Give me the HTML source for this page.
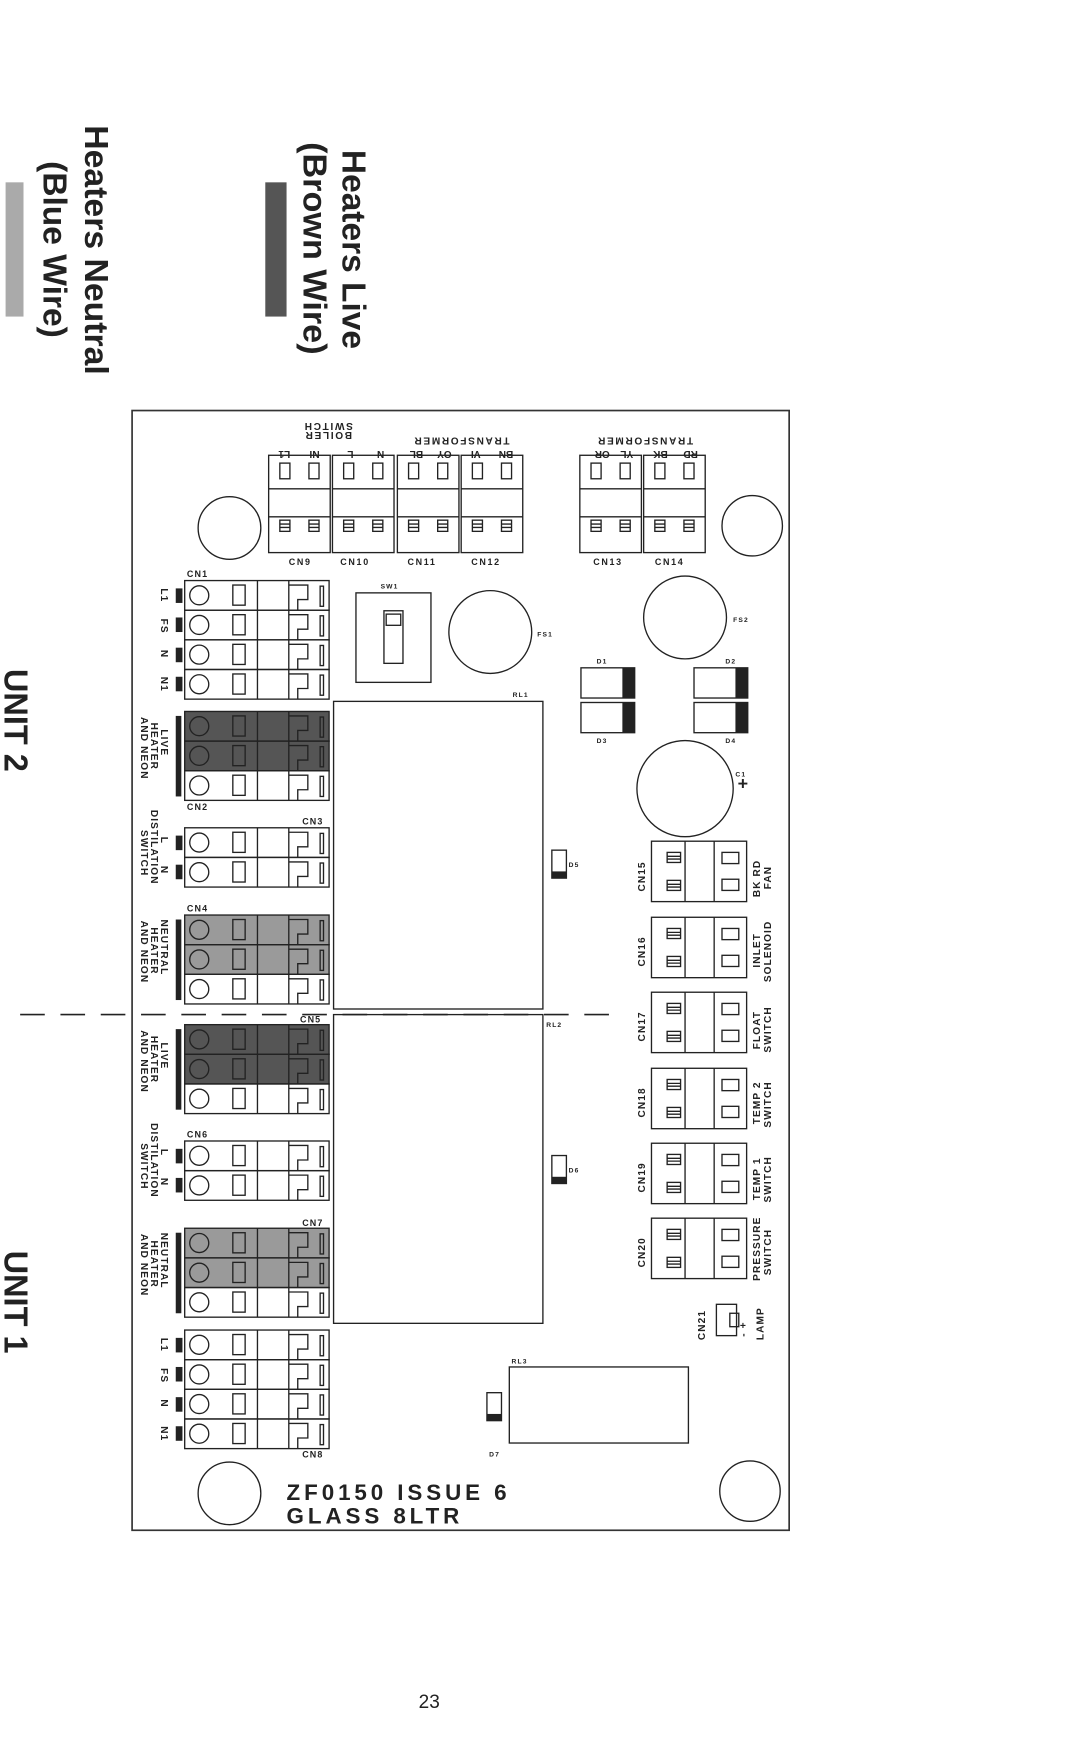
<!DOCTYPE html>
<html><head><meta charset="utf-8"><style>
html,body{margin:0;padding:0;background:#fff}
svg{display:block}
text{font-family:"Liberation Sans",sans-serif;fill:#222}
.s{font-size:8px;font-weight:bold}
.t{font-size:9px;font-weight:bold;text-anchor:middle}
</style></head><body>
<svg width="1069" height="1754" viewBox="0 0 955 1568" preserveAspectRatio="none" xmlns="http://www.w3.org/2000/svg">
<defs>
<g id="row" fill="none" stroke="#222" stroke-width="1.2">
<rect x="0" y="0" width="129" height="26.5"/>
<circle cx="13" cy="13.2" r="8.5"/>
<rect x="43" y="4" width="11" height="18"/>
<line x1="65" y1="0" x2="65" y2="26.5"/>
<line x1="93" y1="0" x2="93" y2="26.5"/>
<path d="M93,4 H110 V17 H101 V26.5"/>
<rect x="121" y="5" width="3" height="18"/>
</g>
<g id="tc" fill="none" stroke="#222" stroke-width="1.2">
<rect x="0" y="0" width="55" height="87"/>
<line x1="0" y1="30" x2="55" y2="30"/><line x1="0" y1="55" x2="55" y2="55"/>
<rect x="10" y="7" width="9" height="14"/><rect x="36" y="7" width="9" height="14"/>
<rect x="10" y="58" width="9" height="10"/><rect x="36" y="58" width="9" height="10"/>
<path d="M10,61.5h9M10,64.5h9M36,61.5h9M36,64.5h9"/>
</g>
<g id="rc" fill="none" stroke="#222" stroke-width="1.2">
<rect x="0" y="0" width="85" height="54"/>
<line x1="30" y1="0" x2="30" y2="54"/><line x1="56" y1="0" x2="56" y2="54"/>
<rect x="14" y="10" width="12" height="9"/><rect x="14" y="35" width="12" height="9"/>
<path d="M14,13.5h12M14,16h12M14,38.5h12M14,41h12"/>
<rect x="63" y="10" width="15" height="10"/><rect x="63" y="34" width="15" height="10"/>
</g>
</defs>

<rect x="237" y="163" width="19" height="120" fill="#555"/>
<rect x="5" y="163" width="16" height="120" fill="#aaa"/>
<g style="font-size:30px;font-weight:bold">
<text transform="translate(306,134) rotate(90)" textLength="178" lengthAdjust="spacingAndGlyphs">Heaters Live</text>
<text transform="translate(271,127) rotate(90)" textLength="190" lengthAdjust="spacingAndGlyphs">(Brown Wire)</text>
<text transform="translate(76,112) rotate(90)" textLength="223" lengthAdjust="spacingAndGlyphs">Heaters Neutral</text>
<text transform="translate(39,144) rotate(90)" textLength="158" lengthAdjust="spacingAndGlyphs">(Blue Wire)</text>
<text transform="translate(4,598) rotate(90)" textLength="92" lengthAdjust="spacingAndGlyphs">UNIT 2</text>
<text transform="translate(4,1118) rotate(90)" textLength="92" lengthAdjust="spacingAndGlyphs">UNIT 1</text>
</g>
<text x="374" y="1527" style="font-size:17px">23</text>

<rect x="118" y="367" width="587" height="1001" fill="none" stroke="#333" stroke-width="1.5"/>
<line x1="18" y1="907" x2="545" y2="907" stroke="#222" stroke-width="1.5" stroke-dasharray="22,14"/>

<g fill="none" stroke="#222" stroke-width="1.2">
<circle cx="205" cy="472" r="28"/><circle cx="672" cy="470" r="27"/>
<circle cx="205" cy="1335" r="28"/><circle cx="670" cy="1333" r="27"/>
<circle cx="438" cy="565" r="37"/><circle cx="612" cy="552" r="37"/>
<circle cx="612" cy="705" r="43"/>
<rect x="318" y="530" width="67" height="80"/><rect x="343" y="546" width="17" height="47"/><rect x="345" y="549" width="13" height="10"/>
<rect x="298" y="627" width="187" height="275"/>
<rect x="298" y="907" width="187" height="276"/>
<rect x="455" y="1222" width="160" height="68"/>
<rect x="519" y="597" width="48" height="27"/><rect x="519" y="628" width="48" height="27"/>
<rect x="620" y="597" width="48" height="27"/><rect x="620" y="628" width="48" height="27"/>
<rect x="493" y="760" width="13" height="25"/><rect x="493" y="1033" width="13" height="25"/><rect x="435" y="1245" width="13" height="25"/>
<rect x="640" y="1166" width="18" height="28"/><rect x="652" y="1174" width="8" height="12"/>
</g>
<g fill="#222">
<rect x="556" y="597" width="11" height="27"/><rect x="556" y="628" width="11" height="27"/>
<rect x="657" y="597" width="11" height="27"/><rect x="657" y="628" width="11" height="27"/>
<rect x="493" y="779" width="13" height="6"/><rect x="493" y="1052" width="13" height="6"/><rect x="435" y="1264" width="13" height="6"/>
</g>
<text x="659" y="706" style="font-size:16px;font-weight:bold">+</text>

<use href="#tc" x="240" y="407"/><use href="#tc" x="297" y="407"/><use href="#tc" x="355" y="407"/><use href="#tc" x="412" y="407"/>
<use href="#tc" x="518" y="407"/><use href="#tc" x="575" y="407"/>
<g class="s" style="letter-spacing:1.5px">
<text x="258" y="505">CN9</text><text x="304" y="505">CN10</text><text x="364" y="505">CN11</text><text x="421" y="505">CN12</text>
<text x="530" y="505">CN13</text><text x="585" y="505">CN14</text>
</g>
<g class="s" style="font-size:6px;letter-spacing:1px">
<text x="340" y="526">SW1</text>
<text x="480" y="569">FS1</text><text x="655" y="556">FS2</text>
<text x="533" y="593">D1</text><text x="648" y="593">D2</text>
<text x="533" y="664">D3</text><text x="648" y="664">D4</text>
<text x="657" y="694">C1</text>
<text x="458" y="623">RL1</text><text x="488" y="918">RL2</text><text x="457" y="1219">RL3</text>
<text x="508" y="775">D5</text><text x="508" y="1048">D6</text><text x="437" y="1302">D7</text>
</g>
<g class="t">
<text transform="translate(254,403) rotate(180)">L1</text>
<text transform="translate(281,403) rotate(180)">NI</text>
<text transform="translate(313,403) rotate(180)">L</text>
<text transform="translate(340,403) rotate(180)">N</text>
<text transform="translate(372,403) rotate(180)">BL</text>
<text transform="translate(397,403) rotate(180)">OY</text>
<text transform="translate(425,403) rotate(180)">VI</text>
<text transform="translate(452,403) rotate(180)">BN</text>
<text transform="translate(538,403) rotate(180)">OR</text>
<text transform="translate(560,403) rotate(180)">YL</text>
<text transform="translate(590,403) rotate(180)">BK</text>
<text transform="translate(617,403) rotate(180)">RD</text>
<text transform="translate(412,391) rotate(180)" style="letter-spacing:1.5px">TRANSFORMER</text>
<text transform="translate(576,391) rotate(180)" style="letter-spacing:1.5px">TRANSFORMER</text>
<text transform="translate(293,386) rotate(180)" style="letter-spacing:1.5px">BOILER</text>
<text transform="translate(293,378) rotate(180)" style="letter-spacing:1.5px">SWITCH</text>
</g>

<g fill="#555">
<rect x="165" y="636" width="129" height="53"/><rect x="165" y="916" width="129" height="53"/>
</g>
<g fill="#9a9a9a">
<rect x="165" y="818" width="129" height="53"/><rect x="165" y="1098" width="129" height="53"/>
</g>
<use href="#row" x="165" y="519"/><use href="#row" x="165" y="545.5"/><use href="#row" x="165" y="572"/><use href="#row" x="165" y="598.5"/>
<use href="#row" x="165" y="636"/><use href="#row" x="165" y="662.5"/><use href="#row" x="165" y="689"/>
<use href="#row" x="165" y="740"/><use href="#row" x="165" y="766.5"/>
<use href="#row" x="165" y="818"/><use href="#row" x="165" y="844.5"/><use href="#row" x="165" y="871"/>
<use href="#row" x="165" y="916"/><use href="#row" x="165" y="942.5"/><use href="#row" x="165" y="969"/>
<use href="#row" x="165" y="1020"/><use href="#row" x="165" y="1046.5"/>
<use href="#row" x="165" y="1098"/><use href="#row" x="165" y="1124.5"/><use href="#row" x="165" y="1151"/>
<use href="#row" x="165" y="1189"/><use href="#row" x="165" y="1215.5"/><use href="#row" x="165" y="1242"/><use href="#row" x="165" y="1268.5"/>
<g fill="#222">
<rect x="157" y="526" width="6" height="13"/><rect x="157" y="552" width="6" height="13"/><rect x="157" y="579" width="6" height="13"/><rect x="157" y="605" width="6" height="13"/>
<rect x="157" y="640" width="5" height="72"/>
<rect x="157" y="747" width="6" height="13"/><rect x="157" y="773" width="6" height="13"/>
<rect x="157" y="822" width="5" height="72"/>
<rect x="157" y="920" width="5" height="72"/>
<rect x="157" y="1027" width="6" height="13"/><rect x="157" y="1053" width="6" height="13"/>
<rect x="157" y="1102" width="5" height="72"/>
<rect x="157" y="1196" width="6" height="13"/><rect x="157" y="1222" width="6" height="13"/><rect x="157" y="1249" width="6" height="13"/><rect x="157" y="1275" width="6" height="13"/>
</g>
<g class="s" style="letter-spacing:1px">
<text x="167" y="516">CN1</text><text x="167" y="724">CN2</text><text x="270" y="737">CN3</text><text x="167" y="815">CN4</text>
<text x="268" y="914">CN5</text><text x="167" y="1017">CN6</text><text x="270" y="1096">CN7</text><text x="270" y="1303">CN8</text>
</g>
<g class="s" style="font-size:9px;letter-spacing:1px">
<text transform="translate(144,526) rotate(90)">L1</text><text transform="translate(144,553) rotate(90)">FS</text>
<text transform="translate(144,581) rotate(90)">N</text><text transform="translate(144,605) rotate(90)">N1</text>
<text transform="translate(144,1196) rotate(90)">L1</text><text transform="translate(144,1223) rotate(90)">FS</text>
<text transform="translate(144,1251) rotate(90)">N</text><text transform="translate(144,1275) rotate(90)">N1</text>
<text transform="translate(144,748) rotate(90)">L</text><text transform="translate(144,774) rotate(90)">N</text>
<text transform="translate(144,1027) rotate(90)">L</text><text transform="translate(144,1053) rotate(90)">N</text>
<text transform="translate(144,652) rotate(90)">LIVE</text><text transform="translate(135,646) rotate(90)">HEATER</text><text transform="translate(126,641) rotate(90)">AND NEON</text>
<text transform="translate(144,932) rotate(90)">LIVE</text><text transform="translate(135,926) rotate(90)">HEATER</text><text transform="translate(126,921) rotate(90)">AND NEON</text>
<text transform="translate(144,822) rotate(90)">NEUTRAL</text><text transform="translate(135,829) rotate(90)">HEATER</text><text transform="translate(126,823) rotate(90)">AND NEON</text>
<text transform="translate(144,1102) rotate(90)">NEUTRAL</text><text transform="translate(135,1109) rotate(90)">HEATER</text><text transform="translate(126,1103) rotate(90)">AND NEON</text>
<text transform="translate(135,724) rotate(90)">DISTILATION</text><text transform="translate(126,742) rotate(90)">SWITCH</text>
<text transform="translate(135,1004) rotate(90)">DISTILATION</text><text transform="translate(126,1022) rotate(90)">SWITCH</text>
</g>

<use href="#rc" x="582" y="752"/><use href="#rc" x="582" y="820"/><use href="#rc" x="582" y="887"/>
<use href="#rc" x="582" y="955"/><use href="#rc" x="582" y="1022"/><use href="#rc" x="582" y="1089"/>
<g class="s" style="font-size:9px;letter-spacing:1px">
<text transform="translate(576,797) rotate(-90)">CN15</text><text transform="translate(576,864) rotate(-90)">CN16</text>
<text transform="translate(576,931) rotate(-90)">CN17</text><text transform="translate(576,999) rotate(-90)">CN18</text>
<text transform="translate(576,1066) rotate(-90)">CN19</text><text transform="translate(576,1133) rotate(-90)">CN20</text>
<text transform="translate(630,1198) rotate(-90)">CN21</text>
<text transform="translate(679,802) rotate(-90)">BK RD</text><text transform="translate(689,795) rotate(-90)">FAN</text>
<text transform="translate(679,865) rotate(-90)">INLET</text><text transform="translate(689,878) rotate(-90)">SOLENOID</text>
<text transform="translate(679,938) rotate(-90)">FLOAT</text><text transform="translate(689,941) rotate(-90)">SWITCH</text>
<text transform="translate(679,1005) rotate(-90)">TEMP 2</text><text transform="translate(689,1008) rotate(-90)">SWITCH</text>
<text transform="translate(679,1073) rotate(-90)">TEMP 1</text><text transform="translate(689,1075) rotate(-90)">SWITCH</text>
<text transform="translate(679,1145) rotate(-90)">PRESSURE</text><text transform="translate(689,1140) rotate(-90)">SWITCH</text>
<text transform="translate(667,1195) rotate(-90)">- +</text><text transform="translate(682,1198) rotate(-90)">LAMP</text>
</g>

<g style="font-family:'Liberation Mono',monospace;font-size:20px;font-weight:bold;letter-spacing:3.5px">
<text x="256" y="1341">ZF0150 ISSUE 6</text>
<text x="256" y="1362">GLASS 8LTR</text>
</g>
</svg>
</body></html>
